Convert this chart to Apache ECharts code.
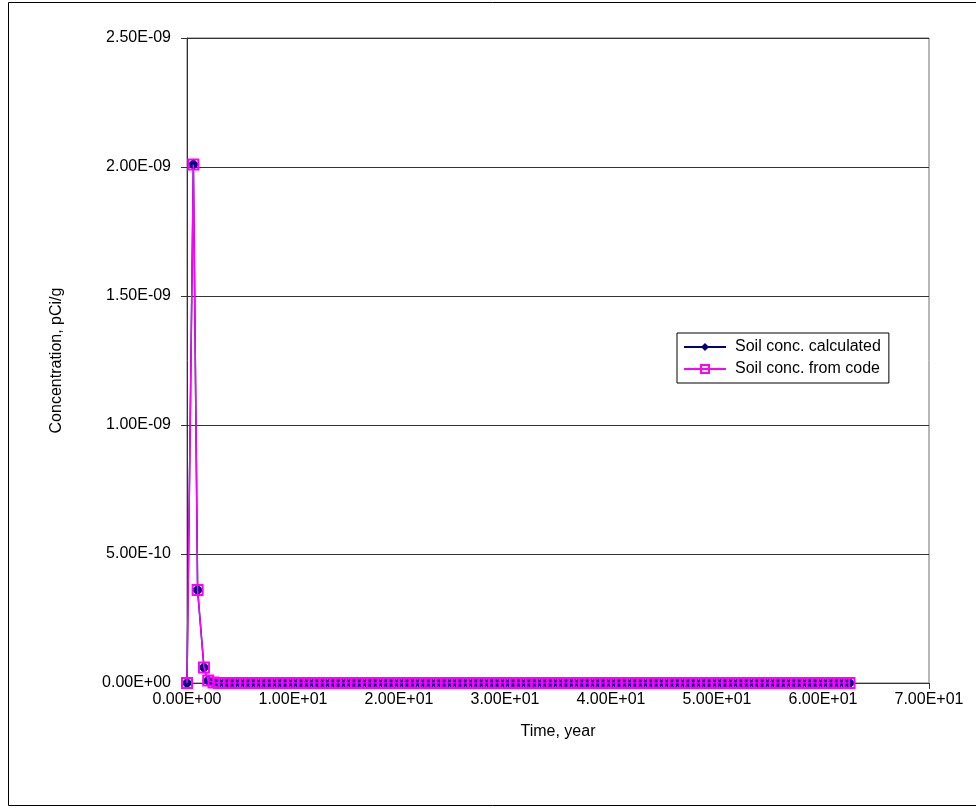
<!DOCTYPE html>
<html>
<head>
<meta charset="utf-8">
<script src="https://cdn.jsdelivr.net/npm/echarts@6/dist/echarts.min.js"></script>
<style>
html,body{margin:0;padding:0;background:#fff;}
#chart{width:976px;height:809px;}
</style>
</head>
<body>
<div id="chart"></div>
<script>
// Time, year
const times = [0,0.6,1,1.6,2,
2.5,3,3.5,4,4.5,5,5.5,6,6.5,7,7.5,8,8.5,9,9.5,10,
10.5,11,11.5,12,12.5,13,13.5,14,14.5,15,15.5,16,16.5,17,17.5,18,18.5,19,19.5,20,
20.5,21,21.5,22,22.5,23,23.5,24,24.5,25,25.5,26,26.5,27,27.5,28,28.5,29,29.5,30,
30.5,31,31.5,32,32.5,33,33.5,34,34.5,35,35.5,36,36.5,37,37.5,38,38.5,39,39.5,40,
40.5,41,41.5,42,42.5,43,43.5,44,44.5,45,45.5,46,46.5,47,47.5,48,48.5,49,49.5,50,
50.5,51,51.5,52,52.5,53,53.5,54,54.5,55,55.5,56,56.5,57,57.5,58,58.5,59,59.5,60,
60.5,61,61.5,62,62.5];
// Soil conc. calculated, pCi/g
const calcValues = [0,2.01e-9,3.6e-10,6.0e-11,1.0e-11,1.8e-12,3e-13,5e-14,
0,0,0,0,0,0,0,0,0,0,0,0,0,0,0,0,0,0,0,0,
0,0,0,0,0,0,0,0,0,0,0,0,0,0,0,0,0,0,0,0,
0,0,0,0,0,0,0,0,0,0,0,0,0,0,0,0,0,0,0,0,
0,0,0,0,0,0,0,0,0,0,0,0,0,0,0,0,0,0,0,0,
0,0,0,0,0,0,0,0,0,0,0,0,0,0,0,0,0,0,0,0,
0,0,0,0,0,0,0,0,0,0,0,0,0,0,0,0,0,0];
// Soil conc. from code, pCi/g
const codeValues = [0,2.01e-9,3.6e-10,6.0e-11,1.0e-11,1.8e-12,3e-13,5e-14,
0,0,0,0,0,0,0,0,0,0,0,0,0,0,0,0,0,0,0,0,
0,0,0,0,0,0,0,0,0,0,0,0,0,0,0,0,0,0,0,0,
0,0,0,0,0,0,0,0,0,0,0,0,0,0,0,0,0,0,0,0,
0,0,0,0,0,0,0,0,0,0,0,0,0,0,0,0,0,0,0,0,
0,0,0,0,0,0,0,0,0,0,0,0,0,0,0,0,0,0,0,0,
0,0,0,0,0,0,0,0,0,0,0,0,0,0,0,0,0,0];
const seriesNames = ['Soil conc. calculated','Soil conc. from code'];

function sci(v){
  if (v === 0) return '0.00E+00';
  const e = Math.floor(Math.log10(Math.abs(v)) + 1e-9);
  const m = v / Math.pow(10, e);
  const sign = e < 0 ? '-' : '+';
  const ea = Math.abs(e);
  return m.toFixed(2) + 'E' + sign + (ea < 10 ? '0' + ea : '' + ea);
}

const FONT = 'Liberation Sans, Arial, sans-serif';
const chart = echarts.init(document.getElementById('chart'), null, {renderer:'canvas'});
const option = {
  backgroundColor: '#fff',
  animation: false,
  graphic: [{
    type: 'rect', shape: {x: 8.5, y: 2.5, width: 980, height: 803},
    style: {fill: 'none', stroke: '#000', lineWidth: 1}, silent: true, z: 0
  }],
  grid: {left: 187, top: 38, right: 47, bottom: 126, show: true, borderColor: '#707070', borderWidth: 1, backgroundColor: 'transparent'},
  legend: {
    orient: 'vertical', left: 677, top: 333,
    backgroundColor: '#fff', borderColor: '#000', borderWidth: 1,
    padding: [6, 8, 6, 6], itemGap: 6, itemWidth: 42, itemHeight: 10,
    textStyle: {fontFamily: FONT, fontSize: 16, color: '#000', padding: [0, 0, 0, 4]},
    data: seriesNames
  },
  xAxis: {
    type: 'value', min: 0, max: 70, interval: 10,
    name: 'Time, year', nameLocation: 'middle', nameGap: 41,
    nameTextStyle: {fontFamily: FONT, fontSize: 16, color: '#000'},
    axisLine: {lineStyle: {color: '#333', width: 1}},
    axisTick: {show: true, inside: false, length: 6, lineStyle: {color: '#333'}},
    axisLabel: {fontFamily: FONT, fontSize: 16, color: '#000', margin: 9, formatter: sci},
    splitLine: {show: false}
  },
  yAxis: {
    type: 'value', min: 0, max: 2.5e-9, interval: 5e-10,
    name: 'Concentration, pCi/g', nameLocation: 'middle', nameGap: 122, nameRotate: 90,
    nameTextStyle: {fontFamily: FONT, fontSize: 16, color: '#000'},
    axisLine: {show: true, lineStyle: {color: '#333', width: 1}},
    axisTick: {show: true, length: 6, lineStyle: {color: '#333'}},
    axisLabel: {fontFamily: FONT, fontSize: 16, color: '#000', margin: 16, formatter: sci},
    splitLine: {show: true, lineStyle: {color: '#333', width: 1}}
  },
  series: [
    {
      name: seriesNames[0], type: 'line',
      data: times.map((t, i) => [t, calcValues[i]]),
      symbol: 'diamond', symbolSize: 12, showAllSymbol: true,
      lineStyle: {color: '#000080', width: 1.5},
      itemStyle: {color: '#000080'},
      z: 2
    },
    {
      name: seriesNames[1], type: 'line',
      data: times.map((t, i) => [t, codeValues[i]]),
      symbol: 'rect', symbolSize: 10, showAllSymbol: true,
      lineStyle: {color: '#FF00FF', width: 1.5},
      itemStyle: {color: 'transparent', borderColor: '#FF00FF', borderWidth: 2},
      z: 3
    }
  ]
};
chart.setOption(option);
</script>
</body>
</html>
